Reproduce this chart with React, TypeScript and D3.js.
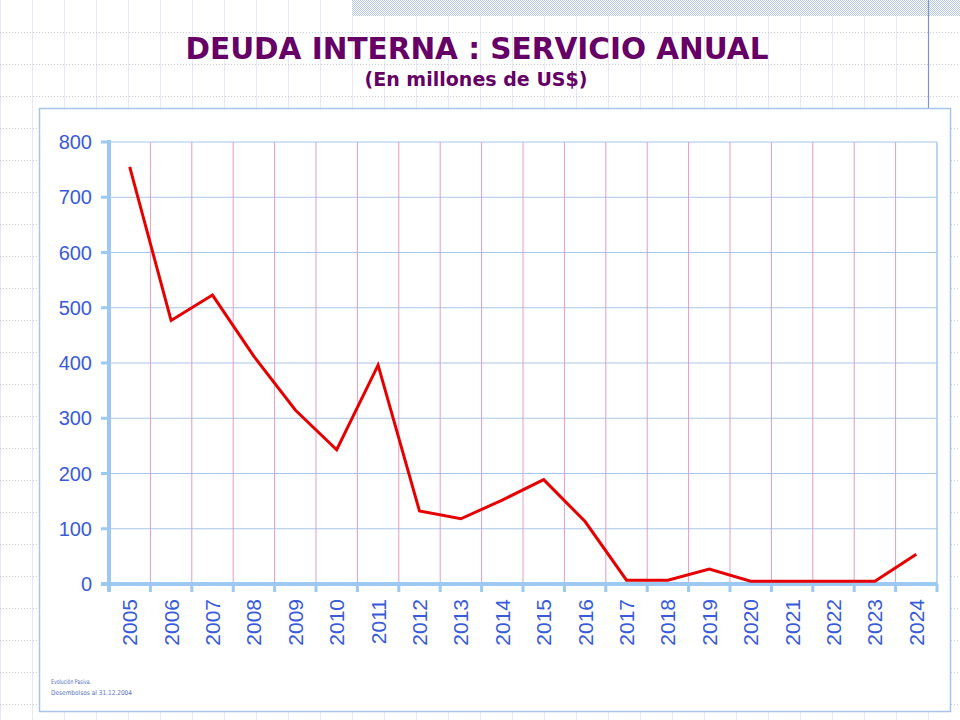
import React, { useEffect, useRef } from 'react';
import * as d3 from 'd3';

const years = [
  '2005', '2006', '2007', '2008', '2009', '2010', '2011', '2012', '2013', '2014',
  '2015', '2016', '2017', '2018', '2019', '2020', '2021', '2022', '2023', '2024',
];
const servicio = [755, 477, 523, 412, 315, 243, 396, 132, 118, 152, 189, 113, 7, 7, 27, 5, 5, 5, 5, 54];
const yTicks = [0, 100, 200, 300, 400, 500, 600, 700, 800];
const titulo = 'DEUDA INTERNA : SERVICIO ANUAL';
const subtitulo = '(En millones de US$)';
const notas = ['Evolución Pasiva.', 'Desembolsos al 31.12.2004'];

const W = 960;
const H = 720;

export default function App() {
  const svgRef = useRef<SVGSVGElement>(null);

  useEffect(() => {
    document.body.style.margin = '0';
    const svg = d3.select(svgRef.current);
    svg.selectAll('*').remove();

    // slide background: dotted grid
    const defs = svg.append('defs');
    const pat = defs.append('pattern')
      .attr('id', 'checker')
      .attr('width', 2)
      .attr('height', 2)
      .attr('patternUnits', 'userSpaceOnUse');
    pat.append('rect').attr('width', 2).attr('height', 2).attr('fill', '#ffffff');
    pat.append('rect').attr('width', 1).attr('height', 1).attr('fill', '#b3c5ea');
    pat.append('rect').attr('x', 1).attr('y', 1).attr('width', 1).attr('height', 1).attr('fill', '#b3c5ea');

    svg.append('rect').attr('width', W).attr('height', H).attr('fill', '#ffffff');

    const bg = svg.append('g');
    d3.range(0, W, 32).forEach(x => {
      bg.append('line')
        .attr('x1', x + 0.5).attr('x2', x + 0.5)
        .attr('y1', 0).attr('y2', H)
        .attr('stroke', '#e8e8f4').attr('stroke-width', 1);
    });
    d3.range(32, H, 32).forEach(y => {
      bg.append('line')
        .attr('x1', 0).attr('x2', W)
        .attr('y1', y + 0.5).attr('y2', y + 0.5)
        .attr('stroke', '#c6cadf').attr('stroke-width', 1)
        .attr('stroke-dasharray', '1,2');
    });

    // top right hatched band and vertical rule
    svg.append('rect')
      .attr('x', 352).attr('y', 0)
      .attr('width', W - 352).attr('height', 16)
      .attr('fill', 'url(#checker)');
    svg.append('line')
      .attr('x1', 928.5).attr('x2', 928.5)
      .attr('y1', 0).attr('y2', 108)
      .attr('stroke', '#8092d0').attr('stroke-width', 1.2);

    // titles
    svg.append('text')
      .attr('x', 477).attr('y', 59)
      .attr('text-anchor', 'middle')
      .attr('textLength', 583)
      .attr('lengthAdjust', 'spacingAndGlyphs')
      .style('font-family', '"DejaVu Sans", Verdana, sans-serif')
      .style('font-weight', 'bold')
      .style('font-size', '31px')
      .style('fill', '#660066')
      .text(titulo);

    svg.append('text')
      .attr('x', 476).attr('y', 86)
      .attr('text-anchor', 'middle')
      .attr('textLength', 223)
      .attr('lengthAdjust', 'spacingAndGlyphs')
      .style('font-family', '"DejaVu Sans", Verdana, sans-serif')
      .style('font-weight', 'bold')
      .style('font-size', '20px')
      .style('fill', '#660066')
      .text(subtitulo);

    // chart frame
    svg.append('rect')
      .attr('x', 39.5).attr('y', 108.5)
      .attr('width', 911).attr('height', 603)
      .attr('fill', '#ffffff')
      .attr('stroke', '#a8c4e8').attr('stroke-width', 1.5);

    const left = 109;
    const right = 937;
    const top = 142;
    const bottom = 584;

    const x = d3.scaleBand<string>().domain(years).range([left, right]).padding(0);
    const y = d3.scaleLinear().domain([0, 800]).range([bottom, top]);

    const g = svg.append('g');

    // horizontal grid
    g.selectAll('.hgrid')
      .data(yTicks.filter(t => t > 0))
      .enter()
      .append('line')
      .attr('x1', left).attr('x2', right)
      .attr('y1', d => y(d)).attr('y2', d => y(d))
      .attr('stroke', '#a6c6e6').attr('stroke-width', 1);

    // vertical pink grid at category boundaries
    g.selectAll('.vgrid')
      .data(years.slice(1))
      .enter()
      .append('line')
      .attr('x1', d => x(d)!).attr('x2', d => x(d)!)
      .attr('y1', top).attr('y2', bottom)
      .attr('stroke', '#e39cc6').attr('stroke-width', 1);

    // right border
    g.append('line')
      .attr('x1', right).attr('x2', right)
      .attr('y1', top).attr('y2', bottom)
      .attr('stroke', '#a6c6e6').attr('stroke-width', 1.5);

    const axisColor = '#9cc8f2';

    // y ticks + labels
    g.selectAll('.ytick')
      .data(yTicks)
      .enter()
      .append('line')
      .attr('x1', left - 8).attr('x2', left)
      .attr('y1', d => y(d)).attr('y2', d => y(d))
      .attr('stroke', axisColor).attr('stroke-width', 3);

    g.selectAll('.ylab')
      .data(yTicks)
      .enter()
      .append('text')
      .attr('x', 92)
      .attr('y', d => y(d))
      .attr('dy', '0.36em')
      .attr('text-anchor', 'end')
      .style('font-family', '"Liberation Sans", Arial, sans-serif')
      .style('font-size', '20px')
      .style('fill', '#3a5bd9')
      .text(d => String(d));

    // x ticks at boundaries
    g.selectAll('.xtick')
      .data([...years.map(d => x(d)!), right])
      .enter()
      .append('line')
      .attr('x1', d => d).attr('x2', d => d)
      .attr('y1', bottom).attr('y2', bottom + 8)
      .attr('stroke', axisColor).attr('stroke-width', 3);

    g.selectAll('.xlab')
      .data(years)
      .enter()
      .append('text')
      .attr('transform', d => `translate(${x(d)! + x.bandwidth() / 2}, 599) rotate(-90)`)
      .attr('dy', '0.36em')
      .attr('text-anchor', 'end')
      .style('font-family', '"Liberation Sans", Arial, sans-serif')
      .style('font-size', '21px')
      .style('fill', '#3a5bd9')
      .text(d => d);

    // axes lines
    g.append('line')
      .attr('x1', left).attr('x2', left)
      .attr('y1', top - 2).attr('y2', bottom + 8)
      .attr('stroke', axisColor).attr('stroke-width', 4);
    g.append('line')
      .attr('x1', left - 8).attr('x2', right)
      .attr('y1', bottom).attr('y2', bottom)
      .attr('stroke', axisColor).attr('stroke-width', 4);

    // series line
    const line = d3.line<number>()
      .x((_, i) => x(years[i])! + x.bandwidth() / 2)
      .y(d => y(d));

    g.append('path')
      .datum(servicio)
      .attr('d', line)
      .attr('fill', 'none')
      .attr('stroke', '#e60000')
      .attr('stroke-width', 3)
      .attr('stroke-linejoin', 'miter');

    // footnotes
    svg.selectAll('.nota')
      .data(notas)
      .enter()
      .append('text')
      .attr('x', 51)
      .attr('y', (_, i) => 684 + i * 11)
      .attr('textLength', (_, i) => (i === 0 ? 40 : 81))
      .attr('lengthAdjust', 'spacingAndGlyphs')
      .style('font-family', '"DejaVu Sans", Verdana, sans-serif')
      .style('font-size', '6.5px')
      .style('fill', '#5470c0')
      .text(d => d);
  }, []);

  return <svg ref={svgRef} width={W} height={H} style={{ display: 'block' }} />;
}
